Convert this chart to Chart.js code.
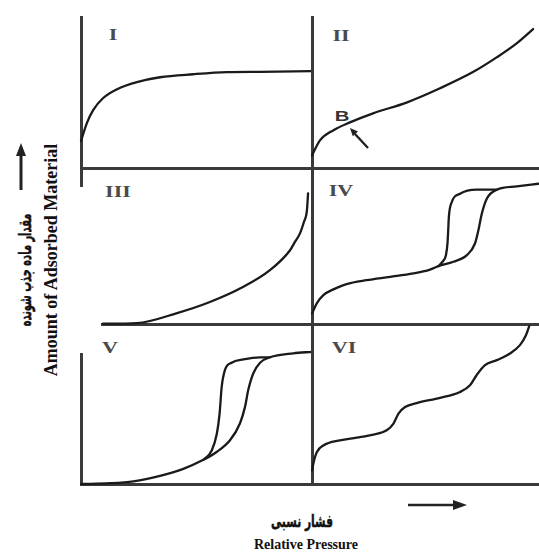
<!DOCTYPE html>
<html>
<head>
<meta charset="utf-8">
<title>Adsorption isotherms I-VI</title>
<script src="https://cdn.jsdelivr.net/npm/chart.js@4.4.0/dist/chart.umd.min.js"></script>
<style>
  html, body { margin: 0; padding: 0; background: #fff; width: 539px; height: 559px; overflow: hidden; }
  .panel { position: absolute; }
  .lbl { position: absolute; white-space: nowrap; line-height: 1; transform: translate(-50%, -50%); }
  .num { font: bold 17px "Liberation Serif", "Times New Roman", serif; color: #4a4a4a; transform: translate(-50%, -50%) scaleX(1.3); }
  .b { font: bold 14px "Liberation Sans", Arial, sans-serif; color: #333; transform: translate(-50%, -50%) scaleX(1.45); }
  .en { font: bold 18px "Liberation Serif", "Times New Roman", serif; color: #111; }
  .fa { font: bold 17px "DejaVu Sans", sans-serif; color: #111; direction: rtl; -webkit-text-stroke: 0.5px #111; }
  #arrows { position: absolute; left: 0; top: 0; }
</style>
</head>
<body>

<div class="lbl num" style="left:113px;top:35px">I</div>
<div class="lbl num" style="left:341px;top:36px">II</div>
<div class="lbl num" style="left:118px;top:192px">III</div>
<div class="lbl num" style="left:341px;top:191px">IV</div>
<div class="lbl num" style="left:110px;top:348px">V</div>
<div class="lbl num" style="left:344px;top:348px">VI</div>
<div class="lbl b" style="left:342px;top:116px">B</div>

<div class="lbl fa" style="left:25px;top:270px;transform:translate(-50%,-50%) rotate(-90deg) scaleX(0.58)">مقدار ماده جذب شونده</div>
<div class="lbl en" style="left:51px;top:260px;transform:translate(-50%,-50%) rotate(-90deg)">Amount of Adsorbed Material</div>
<div class="lbl fa" style="left:302px;top:521px;transform:translate(-50%,-50%) scaleX(0.63)">فشار نسبی</div>
<div class="lbl en" style="left:306px;top:545px;font-size:14px">Relative Pressure</div>

<svg id="arrows" width="539" height="559">
  <line x1="21" y1="190" x2="21" y2="153" stroke="#222" stroke-width="3"/>
  <polygon points="21,143 16,156 26,156" fill="#222"/>
  <line x1="408" y1="505" x2="455" y2="505" stroke="#222" stroke-width="2.7"/>
  <polygon points="467,505 453,500 453,510" fill="#222"/>
  <line x1="368" y1="148" x2="355" y2="134" stroke="#222" stroke-width="2.4"/>
  <polygon points="350,128 358,131.6 352.8,136.2" fill="#222"/>
</svg>

<script>
// relative pressure (x) and amount adsorbed (y), read per panel, 0..1 of each panel
const pressureI = [0, 0.025, 0.052, 0.095, 0.156, 0.242, 0.342, 0.485, 0.632, 0.775, 1.0];
const amountI   = [0.18, 0.296, 0.382, 0.462, 0.522, 0.569, 0.601, 0.621, 0.635, 0.637, 0.641];

const pressureII = [0, 0.035, 0.093, 0.167, 0.269, 0.419, 0.564, 0.709, 0.815, 0.903, 0.974];
const amountII   = [0.083, 0.183, 0.249, 0.302, 0.362, 0.435, 0.528, 0.635, 0.734, 0.827, 0.920];

const pressureIII = [0.095, 0.242, 0.416, 0.558, 0.701, 0.818, 0.905, 0.926, 0.948, 0.965, 0.978, 0.983];
const amountIII   = [0.002, 0.006, 0.070, 0.141, 0.237, 0.345, 0.473, 0.526, 0.581, 0.654, 0.728, 0.837];

const pressureIVads = [0, 0.021, 0.05, 0.094, 0.152, 0.24, 0.344, 0.446, 0.52, 0.557, 0.623, 0.682, 0.718, 0.733, 0.748, 0.770, 0.814, 0.902, 0.997];
const amountIVads   = [0.068, 0.132, 0.185, 0.222, 0.256, 0.281, 0.302, 0.324, 0.349, 0.371, 0.399, 0.441, 0.516, 0.601, 0.707, 0.803, 0.861, 0.882, 0.899];
const pressureIVdes = [0.557, 0.575, 0.590, 0.597, 0.600, 0.603, 0.616, 0.652, 0.725, 0.814];
const amountIVdes   = [0.371, 0.399, 0.441, 0.52, 0.6, 0.688, 0.782, 0.835, 0.861, 0.861];

const pressureVads = [0, 0.126, 0.227, 0.342, 0.443, 0.53, 0.587, 0.645, 0.688, 0.71, 0.724, 0.746, 0.775, 0.818, 0.919, 1.0];
const amountVads   = [0, 0.005, 0.017, 0.051, 0.095, 0.151, 0.2, 0.273, 0.378, 0.482, 0.587, 0.692, 0.758, 0.792, 0.817, 0.826];
const pressureVdes = [0.53, 0.566, 0.588, 0.6, 0.609, 0.623, 0.652, 0.703, 0.775, 0.818];
const amountVdes   = [0.151, 0.21, 0.314, 0.44, 0.607, 0.712, 0.758, 0.779, 0.792, 0.792];

const pressureVI = [0, 0.009, 0.021, 0.05, 0.123, 0.197, 0.27, 0.329, 0.359, 0.381, 0.41, 0.461, 0.564, 0.652, 0.696, 0.725, 0.762, 0.814, 0.872, 0.916, 0.943, 0.957];
const amountVI   = [0.085, 0.147, 0.199, 0.241, 0.273, 0.29, 0.309, 0.336, 0.378, 0.44, 0.481, 0.506, 0.538, 0.575, 0.617, 0.680, 0.743, 0.774, 0.816, 0.868, 0.931, 0.987];

const AXIS_COLOR = '#3a3a3a';
const CURVE_COLOR = '#1a1a1a';
const PAD = 14;

function makePanel(box, series, cfg) {
  const div = document.createElement('div');
  div.className = 'panel';
  div.style.left = (box.l - PAD) + 'px';
  div.style.top = (box.t - PAD) + 'px';
  div.style.width = (box.r - box.l + 2 * PAD) + 'px';
  div.style.height = (box.b - box.t + 2 * PAD) + 'px';
  const cv = document.createElement('canvas');
  div.appendChild(cv);
  document.body.insertBefore(div, document.getElementById('arrows'));

  new Chart(cv, {
    type: 'scatter',
    data: {
      datasets: series.map(s => ({
        data: s[0].map((x, i) => ({ x, y: s[1][i] })),
        showLine: true,
        borderColor: CURVE_COLOR,
        borderWidth: 2.3,
        pointRadius: 0,
        cubicInterpolationMode: 'monotone',
        borderCapStyle: 'round',
        borderJoinStyle: 'round',
        clip: false
      }))
    },
    options: {
      responsive: true,
      maintainAspectRatio: false,
      animation: false,
      events: [],
      layout: { padding: PAD },
      plugins: { legend: { display: false }, tooltip: { enabled: false } },
      scales: {
        x: {
          type: 'linear', min: cfg.x[0], max: cfg.x[1], bounds: 'data',
          position: cfg.xAt !== undefined ? { y: cfg.xAt } : 'bottom',
          ticks: { display: false }, grid: { display: false, drawTicks: false },
          border: { display: true, color: AXIS_COLOR, width: 3 }
        },
        y: {
          type: 'linear', min: cfg.y[0], max: cfg.y[1], bounds: 'data',
          display: cfg.yAxis,
          ticks: { display: false }, grid: { display: false, drawTicks: false },
          border: { display: cfg.yAxis, color: AXIS_COLOR, width: 3 }
        }
      }
    }
  });
}

// I: left axis runs a little below the baseline
makePanel({ l: 81, t: 17, r: 312, b: 186 }, [[pressureI, amountI]], { x: [0, 1], y: [-0.119, 1], xAt: 0, yAxis: true });
makePanel({ l: 312, t: 17, r: 539, b: 168 }, [[pressureII, amountII]], { x: [0, 1], y: [0, 1], yAxis: true });
makePanel({ l: 102, t: 168, r: 312, b: 324 }, [[pressureIII, amountIII]], { x: [0.091, 1], y: [0, 1], yAxis: false });
makePanel({ l: 312, t: 168, r: 539, b: 324 }, [[pressureIVads, amountIVads], [pressureIVdes, amountIVdes]], { x: [0, 1], y: [0, 1], yAxis: true });
makePanel({ l: 81, t: 354, r: 312, b: 484 }, [[pressureVads, amountVads], [pressureVdes, amountVdes]], { x: [0, 1], y: [0, 0.8125], yAxis: true });
makePanel({ l: 312, t: 324, r: 539, b: 484 }, [[pressureVI, amountVI]], { x: [0, 1], y: [0, 1], yAxis: true });
</script>
</body>
</html>
